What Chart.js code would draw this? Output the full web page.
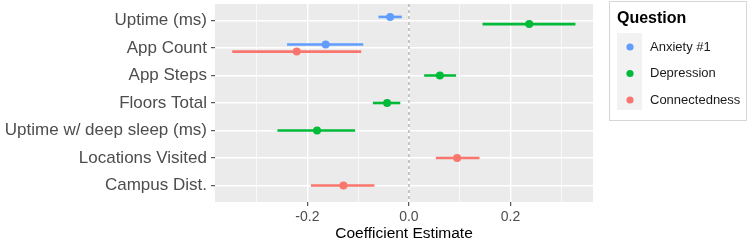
<!DOCTYPE html>
<html><head><meta charset="utf-8">
<script src="https://cdn.jsdelivr.net/npm/chart.js@4.4.0/dist/chart.umd.min.js"></script>
<style>html,body{margin:0;padding:0;background:#fff;}#wrap{width:750px;height:241px;position:relative;}</style>
</head><body><div id="wrap"><canvas id="c" width="750" height="241"></canvas></div>
<script>
const categories = ['Uptime (ms)','App Count','App Steps','Floors Total','Uptime w/ deep sleep (ms)','Locations Visited','Campus Dist.'];
const seriesNames = ['Anxiety #1','Depression','Connectedness'];
const xTicks = [-0.3,-0.2,-0.1,0.0,0.1,0.2,0.3];
const xLabels = {'-0.2':'-0.2','0':'0.0','0.2':'0.2'};

const anxietyEst = [-0.037,-0.164,null,null,null,null,null];
const anxietyLo  = [-0.060,-0.240,null,null,null,null,null];
const anxietyHi  = [-0.014,-0.090,null,null,null,null,null];

const depressionEst = [0.237,null,0.061,-0.043,-0.181,null,null];
const depressionLo  = [0.145,null,0.030,-0.071,-0.259,null,null];
const depressionHi  = [0.328,null,0.093,-0.017,-0.106,null,null];

const connectedEst = [null,-0.221,null,null,null,0.095,-0.129];
const connectedLo  = [null,-0.348,null,null,null,0.053,-0.193];
const connectedHi  = [null,-0.094,null,null,null,0.139,-0.068];

const colors = ['#619CFF','#00BA38','#F8766D'];
const series = [
  {est: anxietyEst, lo: anxietyLo, hi: anxietyHi},
  {est: depressionEst, lo: depressionLo, hi: depressionHi},
  {est: connectedEst, lo: connectedLo, hi: connectedHi}
];

const DODGE = 0.13;
function yPos(si, i){
  const present = series.map((s,k)=>s.est[i]!==null?k:-1).filter(k=>k>=0);
  if (present.length < 2) return i;
  const idx = present.indexOf(si);
  const n = present.length;
  return i + (idx - (n-1)/2) * 2 * DODGE;
}

const datasets = [];
series.forEach((s, si) => {
  const pts = [];
  s.est.forEach((v,i)=>{ if (v!==null) pts.push({x:v, y:yPos(si,i)}); });
  datasets.push({label: seriesNames[si], data: pts, backgroundColor: colors[si], borderWidth: 0, pointRadius: 4, order: 0});
});
series.forEach((s, si) => {
  s.est.forEach((v,i)=>{
    if (v===null) return;
    const y = yPos(si,i);
    datasets.push({label: seriesNames[si]+' CI', data:[{x:s.lo[i],y:y},{x:s.hi[i],y:y}], showLine:true, borderColor: colors[si], borderWidth: 2.6, pointRadius: 0, order: 1});
  });
});

const bgPlugin = {
  id:'bg',
  beforeDraw(chart){
    const {ctx, chartArea:a} = chart;
    ctx.save(); ctx.fillStyle='#EBEBEB'; ctx.fillRect(a.left,a.top,a.right-a.left,a.bottom-a.top); ctx.restore();
  },
  beforeDatasetsDraw(chart){
    const {ctx, chartArea:a, scales} = chart;
    const x = scales.x.getPixelForValue(0);
    ctx.save(); ctx.strokeStyle='#9E9E9E'; ctx.lineWidth=1.1; ctx.setLineDash([3,3]);
    ctx.beginPath(); ctx.moveTo(x,a.top); ctx.lineTo(x,a.bottom); ctx.stroke(); ctx.restore();
  },
  afterDraw(chart){
    const ctx = chart.ctx;
    ctx.save();
    ctx.strokeStyle='#D6D6D6'; ctx.lineWidth=1;
    ctx.strokeRect(609.5,1.5,137,119);
    ctx.fillStyle='#000'; ctx.font='bold 16px "Liberation Sans", Arial, sans-serif';
    ctx.textBaseline='middle'; ctx.textAlign='left';
    ctx.fillText('Question',617,19);
    ctx.fillStyle='#F2F2F2'; ctx.fillRect(617,33,25,77);
    const ys=[47,73.5,100];
    seriesNames.forEach((n,i)=>{
      ctx.fillStyle=colors[i]; ctx.beginPath(); ctx.arc(630,ys[i],3.6,0,Math.PI*2); ctx.fill();
      ctx.fillStyle='#1A1A1A'; ctx.font='13px "Liberation Sans", Arial, sans-serif';
      ctx.fillText(n,650,ys[i]);
    });
    ctx.restore();
  }
};

new Chart(document.getElementById('c'), {
  type:'scatter',
  data:{datasets},
  plugins:[bgPlugin],
  options:{
    responsive:false, animation:false, events:[],
    layout:{padding:{left:0,right:157,top:0,bottom:0}},
    plugins:{legend:{display:false}, tooltip:{enabled:false}},
    scales:{
      x:{
        type:'linear', min:-0.382, max:0.3626,
        afterBuildTicks(s){ s.ticks = xTicks.map(v=>({value:v})); },
        afterFit(s){ s.height = 39; s.paddingLeft = 0; s.paddingRight = 0; },
        border:{display:false},
        grid:{
          color:'#FFFFFF',
          lineWidth:(c)=> (Math.round(c.tick.value*10)%2===0)?1.4:0.7,
          tickColor:(c)=> (Math.round(c.tick.value*10)%2===0)?'#333333':'rgba(0,0,0,0)',
          tickLength:4, tickWidth:1
        },
        ticks:{
          autoSkip:false, maxRotation:0, color:'#4D4D4D', padding:3,
          font:{family:'"Liberation Sans", Arial, sans-serif', size:14},
          callback:(v)=>{ const k = String(Math.round(v*10)/10); return xLabels[k]!==undefined?xLabels[k]:''; }
        },
        title:{display:true, text:'Coefficient Estimate', color:'#000', padding:{top:0,bottom:-2.5},
          font:{family:'"Liberation Sans", Arial, sans-serif', size:15.5}}
      },
      y:{
        type:'linear', min:-0.6, max:categories.length-0.4, reverse:true,
        afterBuildTicks(s){ s.ticks = categories.map((_,i)=>({value:i})); },
        afterFit(s){ s.width = 215; s.paddingTop = 0; s.paddingBottom = 0; },
        border:{display:false},
        grid:{color:'#FFFFFF', lineWidth:1.4, tickColor:'#333333', tickLength:4, tickWidth:1},
        ticks:{
          autoSkip:false, color:'#4D4D4D', padding:4,
          font:{family:'"Liberation Sans", Arial, sans-serif', size:17},
          callback:(v)=>categories[v]
        }
      }
    }
  }
});
</script></body></html>
